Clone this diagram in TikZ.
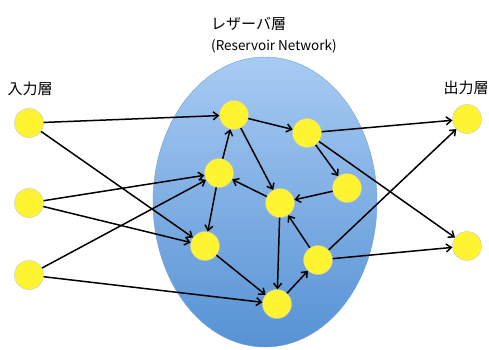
\documentclass[tikz,border=0pt]{standalone}
\usepackage{fontspec}
\setmainfont{Noto Sans CJK JP}
\usetikzlibrary{arrows.meta}
\definecolor{resvtop}{RGB}{168,203,243}
\definecolor{resvbot}{RGB}{86,146,212}
\definecolor{resvline}{RGB}{110,160,215}
\definecolor{unityellow}{RGB}{255,244,50}
\begin{document}
\begin{tikzpicture}[x=1pt, y=-1pt,
   unit/.style={circle, draw=gray!45, fill=unityellow, minimum size=29pt, inner sep=0pt},
   link/.style={-{Straight Barb[length=5pt,width=8pt]}, line width=1.5pt},
   caption/.style={inner sep=0pt, font=\fontsize{15}{18}\selectfont}]
   \useasboundingbox (0,0) rectangle (489,349);
   % reservoir
   \shade[top color=resvtop, bottom color=resvbot, draw=resvline]
     (265,202) ellipse [x radius=112pt, y radius=145pt];
   % labels
   \node[caption] (inlabel) at (30,89) {入力層};
   \node[caption] (outlabel) at (466,88) {出力層};
   \node[caption, anchor=west] (title) at (211,24) {レザーバ層};
   \node[caption, anchor=west, font=\fontsize{13.5}{16}\selectfont] (subtitle) at (211,46) {(Reservoir Network)};
   % units
   \foreach \n/\x/\y in
     {i1/29/123, i2/29/203, i3/29/275,
      r1/234/115, r2/307/133, r3/219/173, r4/347/188,
      r5/280/203, r6/205/246, r7/318/260, r8/277/304,
      o1/467/119, o2/467/246}
     \node[unit] (\n) at (\x,\y) {};
   % connections
   \foreach \a/\b in
     {i1/r1, i1/r6, i2/r3, i2/r6, i3/r3, i3/r8,
      r1/r2, r1/r5, r3/r1, r3/r6, r5/r3, r2/r4, r4/r5, r7/r5,
      r5/r8, r6/r8, r8/r7,
      r2/o1, r2/o2, r7/o1, r7/o2}
     \draw[link] (\a) -- (\b);
\end{tikzpicture}
\end{document}
